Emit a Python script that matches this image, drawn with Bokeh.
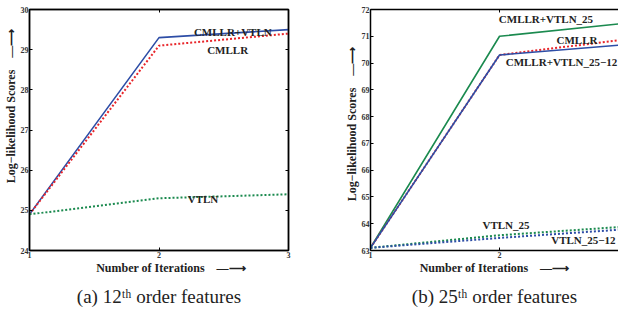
from bokeh.plotting import figure
from bokeh.layouts import row
from bokeh.models import Range1d, LinearAxis, FixedTicker
from bokeh.core.properties import value
from bokeh.embed import file_html
from bokeh.resources import INLINE

# ---------------- data ----------------
iters = [1, 2, 3]

# (a) 12th order features
a_cmllr_vtln = [24.9, 29.3, 29.5]
a_cmllr = [24.9, 29.1, 29.4]
a_vtln = [24.9, 25.3, 25.4]
a_yticks = [24, 25, 26, 27, 28, 29, 30]
a_labels = ["CMLLR+VTLN", "CMLLR", "VTLN"]
a_label_x = [2.57, 2.53, 2.34]
a_label_y = [29.45, 28.98, 25.27]

# (b) 25th order features
b_cmllr_vtln25 = [63.1, 71.0, 71.5]
b_cmllr = [63.1, 70.3, 70.9]
b_cmllr_vtln2512 = [63.1, 70.3, 70.7]
b_vtln25 = [63.1, 63.57, 63.9]
b_vtln2512 = [63.1, 63.47, 63.8]
b_yticks = [63, 64, 65, 66, 67, 68, 69, 70, 71, 72]
b_labels = ["CMLLR+VTLN_25", "CMLLR", "CMLLR+VTLN_25\u221212", "VTLN_25", "VTLN_25\u221212"]
b_label_x = [2.36, 2.60, 2.48, 2.05, 2.65]
b_label_y = [71.63, 70.87, 70.04, 63.94, 63.41]

BLUE = "#2d4da6"
RED = "#e8252a"
GREEN = "#1b8a4f"
SERIF = "Liberation Serif"
EM = "\u2003"
ARROW = "\u2014\u27f6"


def style_axes(p, yticks, xticks, caption, x_lead, y_lead):
    for ax in p.xaxis + p.yaxis:
        ax.major_tick_in = 3
        ax.major_tick_out = 0
        ax.minor_tick_line_color = None
        ax.axis_line_width = 1.5
        ax.major_label_text_font = SERIF
        ax.major_label_text_font_style = "bold"
        ax.major_label_text_font_size = "8px"
        ax.major_label_text_color = "#333333"
        ax.major_label_standoff = 1
        ax.axis_label_text_font = SERIF
        ax.axis_label_text_font_style = "bold"
        ax.axis_label_text_color = "#222222"
        ax.axis_label_standoff = 1
    p.xaxis.ticker = FixedTicker(ticks=xticks)
    p.yaxis.ticker = FixedTicker(ticks=yticks)
    p.xaxis.axis_label = EM * x_lead + "Number of Iterations" + EM + ARROW
    p.xaxis.axis_label_text_font_size = "12px"
    p.xaxis.axis_label_standoff = 0
    p.yaxis.axis_label = EM * y_lead + "Log\u2212likelihood Scores" + EM + ARROW
    p.yaxis.axis_label_text_font_size = "12px"
    p.yaxis.axis_label_standoff = 0
    p.xgrid.grid_line_color = None
    p.ygrid.grid_line_color = None
    p.outline_line_color = "#222222"
    p.outline_line_width = 1.5
    p.title.text = caption
    p.title.align = "center"
    p.title.text_font = SERIF
    p.title.text_font_style = "normal"
    p.title.text_font_size = "19px"
    p.title.text_color = "#222222"
    p.title.standoff = 13


def extra_axis(p, loc, ticks):
    ax = LinearAxis(ticker=FixedTicker(ticks=ticks))
    ax.major_tick_in = 3
    ax.major_tick_out = 0
    ax.minor_tick_line_color = None
    ax.major_label_overrides = {t: "" for t in ticks}
    ax.major_label_standoff = 0
    ax.axis_line_width = 1.5
    p.add_layout(ax, loc)


# ---------------- panel (a) ----------------
p1 = figure(frame_width=259, frame_height=241, output_backend="svg",
            toolbar_location=None, title_location="below",
            x_range=Range1d(1, 3), y_range=Range1d(24, 30),
            min_border_left=22, min_border_right=31, min_border_top=9,
            min_border_bottom=2)
p1.line(iters, a_cmllr_vtln, line_color=BLUE, line_width=1.6)
p1.line(iters, a_cmllr, line_color=RED, line_width=2, line_dash="2 2")
p1.line(iters, a_vtln, line_color=GREEN, line_width=2, line_dash="2 2")
p1.text(a_label_x, a_label_y, text=a_labels, text_align="center",
        text_baseline="middle", text_font=value(SERIF),
        text_font_style="bold", text_font_size="11px", text_color="#222222")
style_axes(p1, a_yticks, iters, "(a) 12\u1d57\u02b0 order features", 2, 4)
extra_axis(p1, "right", a_yticks)
extra_axis(p1, "above", iters)

# ---------------- panel (b) ----------------
p2 = figure(frame_width=248, frame_height=241, output_backend="svg",
            toolbar_location=None, title_location="below",
            x_range=Range1d(1, 2.922), y_range=Range1d(63, 72),
            min_border_left=51, min_border_right=0, min_border_top=9,
            min_border_bottom=2)
p2.line(iters, b_cmllr_vtln25, line_color=GREEN, line_width=1.6)
p2.line(iters, b_cmllr, line_color=RED, line_width=2, line_dash="2 2")
p2.line(iters, b_cmllr_vtln2512, line_color=BLUE, line_width=1.6)
p2.line(iters, b_vtln25, line_color=GREEN, line_width=2, line_dash="2 2")
p2.line(iters, b_vtln2512, line_color=BLUE, line_width=2, line_dash="2 2")
p2.text(b_label_x, b_label_y, text=b_labels, text_align="center",
        text_baseline="middle", text_font=value(SERIF),
        text_font_style="bold", text_font_size="11px", text_color="#222222")
style_axes(p2, b_yticks, [1, 2], "(b) 25\u1d57\u02b0 order features", 0, 1)
p2.outline_line_color = None
extra_axis(p2, "above", [1, 2])

layout = row(p1, p2)
open("out.html", "w").write(file_html(layout, INLINE))
